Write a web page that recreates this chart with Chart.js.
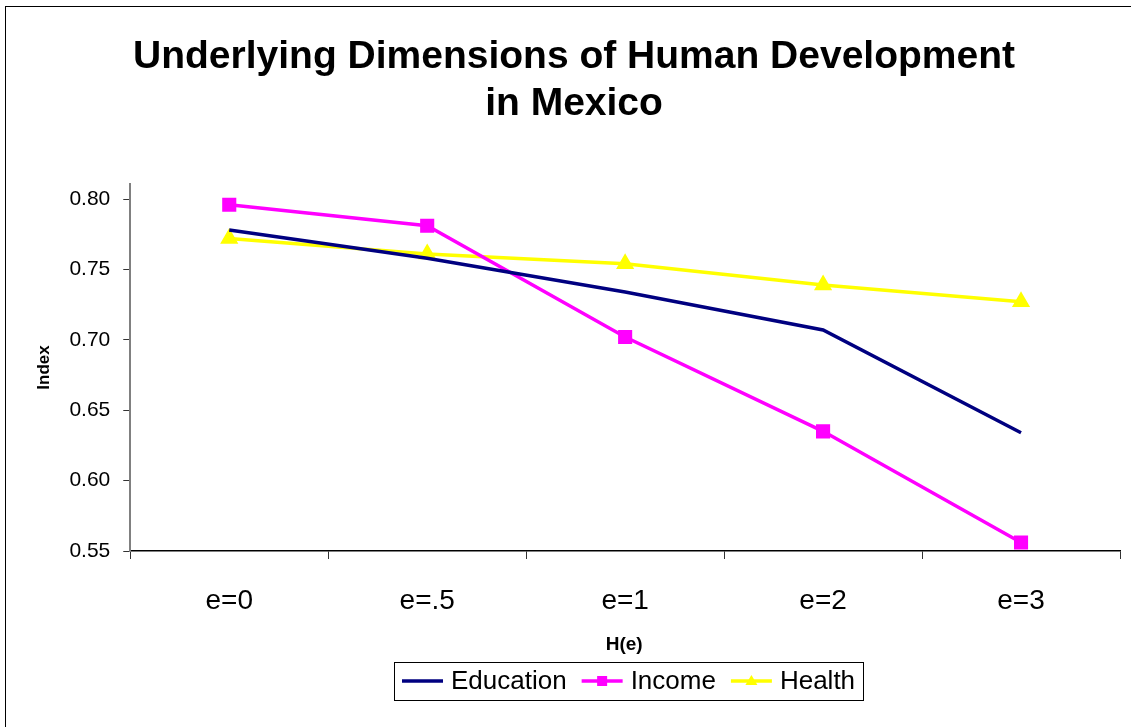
<!DOCTYPE html>
<html>
<head>
<meta charset="utf-8">
<script src="https://cdn.jsdelivr.net/npm/chart.js@4"></script>
<style>
  html, body { margin: 0; padding: 0; background: #fff; }
  #wrap { width: 1131px; height: 727px; }
</style>
</head>
<body>
<div id="wrap"><canvas id="chart" width="1131" height="727"></canvas></div>
<script>
// ---- data ----
const categories = ["e=0", "e=.5", "e=1", "e=2", "e=3"];
const education = [0.778, 0.758, 0.734, 0.707, 0.634];
const income    = [0.796, 0.781, 0.702, 0.635, 0.556];
const health    = [0.772, 0.761, 0.754, 0.739, 0.727];
const yTicks    = [0.55, 0.60, 0.65, 0.70, 0.75, 0.80];
const xTitle    = "H(e)";

const FONT = "'Liberation Sans', Arial, sans-serif";

// outer frame, x axis title, boxed legend (line with marker, then label)
const frameAndLegend = {
  id: "frameAndLegend",
  afterDraw(chart) {
    const ctx = chart.ctx;
    const area = chart.chartArea;
    const cx = (area.left + area.right) / 2;
    ctx.save();
    ctx.strokeStyle = "#000";
    ctx.lineWidth = 1;
    ctx.strokeRect(5.5, 6.5, 1200, 800);

    ctx.fillStyle = "#000";
    ctx.textAlign = "center";
    ctx.textBaseline = "middle";
    ctx.font = "bold 19px " + FONT;
    ctx.fillText(xTitle, cx - 1, area.bottom + 94);

    ctx.textAlign = "left";
    ctx.font = "26px " + FONT;
    const sets = chart.data.datasets;
    const lineLen = 41, gapText = 8, gapItem = 15, pad = 8;
    const widths = sets.map(d => ctx.measureText(d.label).width);
    const total = widths.reduce((a, w) => a + lineLen + gapText + w, 0) + gapItem * (sets.length - 1) + pad * 2;
    const top = 662, h = 38;
    let x = Math.round(cx + 3 - total / 2);
    ctx.strokeRect(x + 0.5, top + 0.5, Math.round(total), h);
    const cy = top + h / 2;
    x += pad;
    sets.forEach((d, i) => {
      ctx.strokeStyle = d.borderColor;
      ctx.fillStyle = d.borderColor;
      ctx.lineWidth = 3.5;
      ctx.beginPath(); ctx.moveTo(x, cy); ctx.lineTo(x + lineLen, cy); ctx.stroke();
      const mx = x + lineLen / 2;
      if (d.pointStyle === "rect") {
        ctx.fillRect(mx - 5, cy - 5, 10, 10);
      } else if (d.pointStyle === "triangle") {
        ctx.beginPath(); ctx.moveTo(mx, cy - 6); ctx.lineTo(mx + 6, cy + 4); ctx.lineTo(mx - 6, cy + 4); ctx.closePath(); ctx.fill();
      }
      x += lineLen + gapText;
      ctx.fillStyle = "#000";
      ctx.fillText(d.label, x, cy + 1);
      x += widths[i] + gapItem;
    });
    ctx.restore();
  }
};

new Chart(document.getElementById("chart"), {
  type: "line",
  data: {
    labels: categories,
    datasets: [
      { label: "Education", data: education, borderColor: "#000080", backgroundColor: "#000080",
        borderWidth: 3.5, pointRadius: 0, pointStyle: false },
      { label: "Income", data: income, borderColor: "#ff00ff", backgroundColor: "#ff00ff",
        borderWidth: 3.5, pointStyle: "rect", pointRadius: 7.5 },
      { label: "Health", data: health, borderColor: "#ffff00", backgroundColor: "#ffff00",
        borderWidth: 3.5, pointStyle: "triangle", pointRadius: 7 }
    ]
  },
  options: {
    responsive: false,
    animation: false,
    layout: { padding: { left: 22, right: 5, top: 34, bottom: 84 } },
    plugins: {
      title: {
        display: true,
        text: ["Underlying Dimensions of Human Development", "in Mexico"],
        color: "#000",
        font: { family: FONT, size: 39, weight: "bold", lineHeight: 1.205 },
        padding: { top: 0, bottom: 56 }
      },
      legend: { display: false },
      tooltip: { enabled: false }
    },
    scales: {
      x: {
        offset: true,
        afterFit(axis) { axis.paddingRight = 0; },
        grid: { display: true, offset: true, drawOnChartArea: false, drawTicks: true,
                tickLength: 8, color: "#000", tickColor: "#333" },
        border: { color: "#000", width: 1.5 },
        ticks: { color: "#000", font: { family: FONT, size: 28, lineHeight: 2.857 }, padding: 2 }
      },
      y: {
        min: 0.55,
        max: 0.8107,
        afterBuildTicks(axis) { axis.ticks = yTicks.map(v => ({ value: v })); },
        grid: { display: true, drawOnChartArea: false, tickLength: 7, tickColor: "#333" },
        border: { color: "#808080", width: 2 },
        ticks: { color: "#000", font: { family: FONT, size: 21 }, padding: 13,
                 callback: v => v.toFixed(2) },
        title: { display: true, text: "Index", color: "#000",
                 font: { family: FONT, size: 17, weight: "bold" }, padding: { top: 12, bottom: 2 } }
      }
    }
  },
  plugins: [frameAndLegend]
});
</script>
</body>
</html>
